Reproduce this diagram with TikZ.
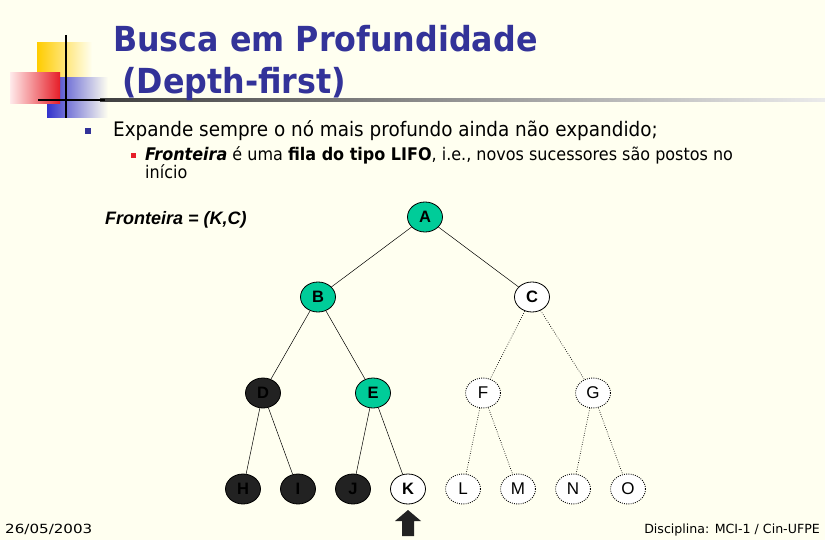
\documentclass[tikz,border=0pt]{standalone}
\usepackage{fontspec}
\setmainfont{Liberation Sans}
\newfontfamily\tahoma{DejaVu Sans}[FakeStretch=0.92]
\newfontfamily\arialf{Liberation Sans}
\newfontfamily\footf{DejaVu Sans}
\newfontfamily\datef{DejaVu Sans}[FakeStretch=1.2]
\usetikzlibrary{shapes.geometric}
\definecolor{bgc}{RGB}{255,255,240}
\definecolor{titleblue}{RGB}{51,51,153}
\definecolor{teal}{RGB}{0,204,153}
\definecolor{darkn}{RGB}{34,34,34}
\definecolor{yel}{RGB}{255,204,0}
\definecolor{redd}{RGB}{230,30,40}
\definecolor{bluu}{RGB}{51,51,204}
\tikzset{
  tnode/.style={ellipse, minimum width=35pt, minimum height=30pt, inner sep=0pt, draw=black, line width=0.8pt, font=\arialf\fontsize{16.5}{15}\selectfont\bfseries},
  visited/.style={tnode, fill=teal},
  closed/.style={tnode, fill=darkn},
  open/.style={tnode, fill=white},
  dotline/.style={line width=0.9pt, dash pattern=on 0.9pt off 1.3pt},
  unseen/.style={tnode, fill=white, dotline, font=\arialf\fontsize{17}{15}\selectfont},
  edge/.style={draw=black, line width=0.5pt},
  dedge/.style={draw=black, line width=0.7pt, dash pattern=on 0.7pt off 1.6pt},
}
\begin{document}
\begin{tikzpicture}[x=1pt,y=-1pt]
\fill[bgc] (0,0) rectangle (825,540);
\useasboundingbox (0,0) rectangle (825,540);
% decoration
\shade[left color=yel, right color=bgc] (37,43) rectangle (92,88);
\shade[left color=bluu, right color=bgc] (47,78) rectangle (108,118);
\shade[left color=red!8, right color=redd] (10,73) rectangle (60,104);
\shade[left color=black!75, right color=black!8] (100,98.8) rectangle (825,101.2);
\draw[black, line width=2.4pt] (38,100) -- (105,100);
\draw[black, line width=2.4pt] (66,35) -- (66,118);
% title
\node[anchor=base west, inner sep=0, text=titleblue, font=\tahoma\bfseries\fontsize{34.5}{40}\selectfont] (t1) at (113,52) {Busca em Profundidade};
\node[anchor=base west, inner sep=0, text=titleblue, font=\tahoma\bfseries\fontsize{34.5}{40}\selectfont] (t2) at (111,94) {\ (Depth-first)};
% bullets
\fill[titleblue] (85,128) rectangle (91,134);
\node[anchor=base west, inner sep=0, font=\tahoma\fontsize{20}{22}\selectfont] (b1) at (113,137) {Expande sempre o nó mais profundo ainda não expandido;};
\fill[redd] (131,153) rectangle (136,158);
\node[anchor=base west, inner sep=0, font=\tahoma\fontsize{17.4}{19}\selectfont] (b2) at (145,161) {\textbf{\textit{Fronteira}} é uma \textbf{fila do tipo LIFO}, i.e., novos sucessores são postos no};
\node[anchor=base west, inner sep=0, font=\tahoma\fontsize{17.4}{19}\selectfont] (b3) at (145,179) {início};
\node[anchor=base west, inner sep=0, font=\arialf\fontsize{18}{18}\selectfont\bfseries\itshape] (fr) at (105,225) {Fronteira = (K,C)};
% tree
\node[visited] (A) at (425,217) {A};
\node[visited] (B) at (318,297) {B};
\node[open] (C) at (532,297) {C};
\node[closed] (D) at (263,393) {D};
\node[visited] (E) at (373,393) {E};
\node[unseen] (F) at (483,393) {F};
\node[unseen] (G) at (593,393) {G};
\node[closed] (H) at (243,489) {H};
\node[closed] (I) at (298,489) {I};
\node[closed] (J) at (353,489) {J};
\node[open] (K) at (408,489) {K};
\node[unseen] (L) at (463,489) {L};
\node[unseen] (M) at (518,489) {M};
\node[unseen] (N) at (573,489) {N};
\node[unseen] (O) at (628,489) {O};
\draw[edge] (A) -- (B);
\draw[edge] (A) -- (C);
\draw[edge] (B) -- (D);
\draw[edge] (B) -- (E);
\draw[edge] (D) -- (H);
\draw[edge] (D) -- (I);
\draw[edge] (E) -- (J);
\draw[edge] (E) -- (K);
\draw[dedge] (C) -- (F);
\draw[dedge] (C) -- (G);
\draw[dedge] (F) -- (L);
\draw[dedge] (F) -- (M);
\draw[dedge] (G) -- (N);
\draw[dedge] (G) -- (O);
% pointer arrow
\fill[darkn] (408,510) -- (421,521) -- (414,521) -- (414,536) -- (402,536) -- (402,521) -- (395,521) -- cycle;
% footer
\node[anchor=base west, inner sep=0, font=\datef\fontsize{12.6}{15}\selectfont] (date) at (5,533) {26/05/2003};
\node[anchor=base east, inner sep=0, font=\footf\fontsize{12.6}{15}\selectfont] (disc) at (820,533) {Disciplina: MCI-1 / Cin-UFPE};
\end{tikzpicture}
\end{document}
